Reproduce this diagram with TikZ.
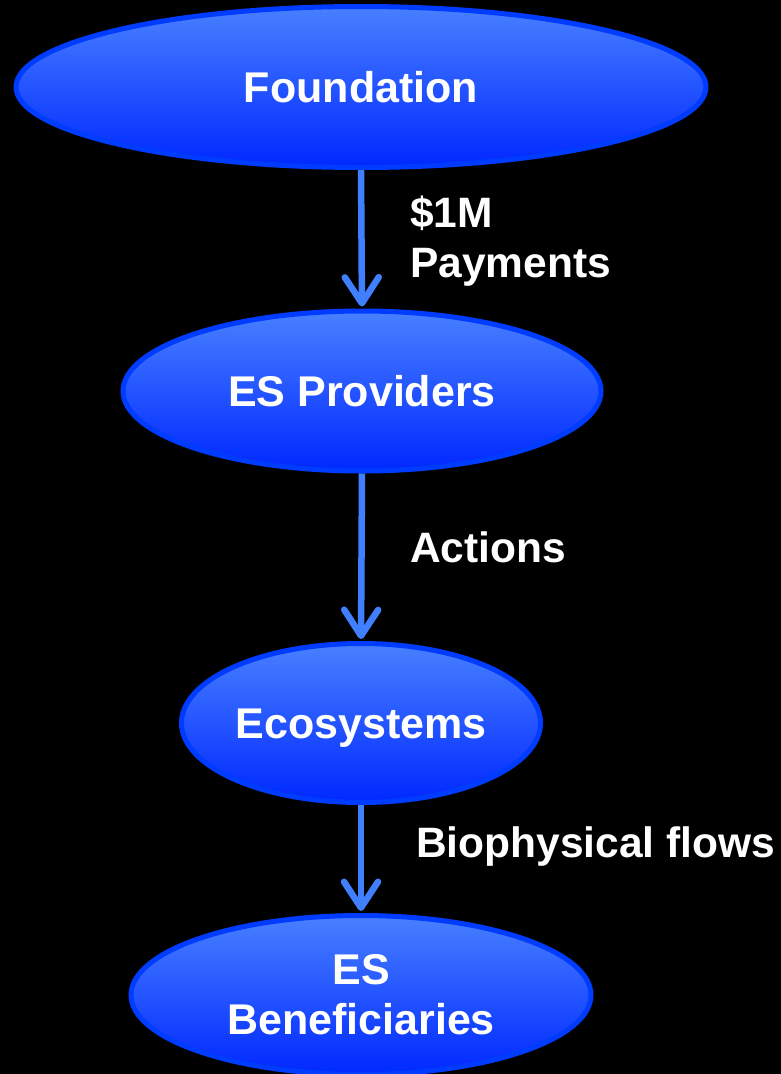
\documentclass[tikz,border=0pt]{standalone}
\usepackage{fontspec}
\setmainfont{Liberation Sans}
\usetikzlibrary{shapes.geometric,arrows.meta}
\definecolor{topblue}{RGB}{72,128,255}
\definecolor{botblue}{RGB}{0,40,255}
\definecolor{rimblue}{RGB}{0,60,255}
\definecolor{arrblue}{RGB}{64,128,255}
\tikzset{
  oval/.style={ellipse, draw=rimblue, line width=5pt, top color=topblue, bottom color=botblue,
    inner sep=0pt, text=white, font=\fontsize{43}{50}\selectfont\bfseries, align=center},
  lbl/.style={text=white, font=\fontsize{42.5}{50}\selectfont\bfseries, inner sep=0pt, align=left},
  flow/.style={draw=arrblue, line width=6.5pt, -{Straight Barb[length=26pt,width=34pt,round]}, shorten >=2pt}
}
\begin{document}
\begin{tikzpicture}[x=1pt,y=-1pt]
\fill[black] (0,0) rectangle (781,1074);
\useasboundingbox (0,0) rectangle (781,1074);
\node[oval, minimum width=690pt, minimum height=161pt] (f) at (361,87) {Foundation};
\node[oval, minimum width=478pt, minimum height=160pt] (p) at (362,391) {ES Providers};
\node[oval, minimum width=359pt, minimum height=159pt, text depth=0pt, text height=30pt] (e) at (361,723) {Ecosystems};
\node[oval, minimum width=460pt, minimum height=159pt] (b) at (361,995) {ES\\Beneficiaries};
\node[lbl, anchor=north west] (l1) at (410,196) {\$1M\\Payments};
\node[lbl, anchor=base west] (l2) at (410,562) {Actions};
\node[lbl, anchor=base west] (l3) at (416,857) {Biophysical flows};
\draw[flow] (f.south) -- (p.north);
\draw[flow] (p.south) -- (e.north);
\draw[flow] (e.south) -- (b.north);
\end{tikzpicture}
\end{document}
